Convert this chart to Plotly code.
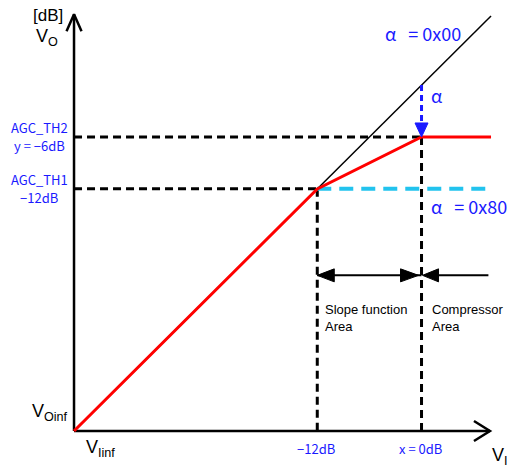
import plotly.graph_objects as go

# ---- data (dB) ----
v_inf_in = -40.0     # V_Iinf
v_inf_out = -40.0    # V_Oinf
th1 = -12.0          # AGC_TH1
th2 = -6.0           # AGC_TH2
x_comp = 0.0         # input level where compressor area starts
x_end = 8.0
red_x = [v_inf_in, th1, x_comp, x_end]
red_y = [v_inf_out, th1, th2, th2]
diag_x = [v_inf_in, x_end]
diag_y = [v_inf_out, x_end]
cyan_x = [th1, 7.65]
cyan_y = [th1, th1]
area_y = -22.0

# pixel scale helpers (px per dB)
PXX = 8.6875
PXY = 8.647
def dx(p): return p / PXX
def dy(p): return p / PXY

BLUE = "#1a1aff"
CYAN = "#22c3ee"
fig = go.Figure()

def line(x, y, color="black", width=2, dash=None):
    fig.add_trace(go.Scatter(x=x, y=y, mode="lines", hoverinfo="skip",
                             line=dict(color=color, width=width, dash=dash)))

def tri(x, y, color="black"):
    fig.add_trace(go.Scatter(x=x + [x[0]], y=y + [y[0]], mode="lines", fill="toself",
                             fillcolor=color, hoverinfo="skip",
                             line=dict(color=color, width=1)))

# axes
y_top = 8.2
x_right = 7.88
line([v_inf_in, v_inf_in], [v_inf_out, y_top], width=2.5)
line([v_inf_in, x_right], [v_inf_out, v_inf_out], width=2.5)
line([v_inf_in - dx(7.5), v_inf_in, v_inf_in + dx(7.5)], [y_top - dy(17), y_top, y_top - dy(17)], width=2.5)
line([x_right - dx(16), x_right, x_right - dx(16)], [v_inf_out + dy(10), v_inf_out, v_inf_out - dy(10)], width=2.5)

# dashed guides
dash_k = "8px,5px"
line([v_inf_in, x_comp], [th2, th2], width=3, dash=dash_k)
line([v_inf_in, th1], [th1, th1], width=3, dash=dash_k)
line([th1, th1], [th1, v_inf_out], width=3, dash=dash_k)
line([x_comp, x_comp], [th2, v_inf_out], width=3, dash=dash_k)
line(cyan_x, cyan_y, color=CYAN, width=4, dash="14px,8px")

# diagonal and response
line(diag_x, diag_y, width=1.5)
line(red_x, red_y, color="#ff0000", width=3)

# blue alpha arrow
line([x_comp, x_comp], [x_comp, th2 + dy(13)], color=BLUE, width=3, dash="6px,4px")
tri([x_comp - dx(6.5), x_comp + dx(6.5), x_comp], [th2 + dy(14), th2 + dy(14), th2], color=BLUE)

# area arrows
line([th1, x_comp], [area_y, area_y], width=2)
tri([th1, th1 + dx(17), th1 + dx(17)], [area_y, area_y + dy(6.5), area_y - dy(6.5)])
tri([x_comp - dx(3), x_comp - dx(21), x_comp - dx(21)], [area_y, area_y + dy(6.5), area_y - dy(6.5)])
line([x_comp + dx(15), 7.7], [area_y, area_y], width=2)
tri([x_comp + dx(1), x_comp + dx(17), x_comp + dx(17)], [area_y, area_y + dy(6.5), area_y - dy(6.5)])

JP = "Noto Sans CJK JP, Liberation Sans, sans-serif"
AR = "Liberation Sans, Arial, sans-serif"
NB = "\u00a0"

def txt(x, y, s, size, color="black", xanchor="center", family=JP, align="center"):
    fig.add_annotation(x=x, y=y, text=s, showarrow=False, xanchor=xanchor, yanchor="middle",
                       align=align, font=dict(size=size, color=color, family=family))

txt(-42.99, 8.1, "[dB]", 17, family=AR)
txt(-43.1, 5.45, "V<sub>O</sub>", 18, family=AR)
txt(-44.0, -4.85, "AGC_TH2", 13, color=BLUE)
txt(-44.0, -6.93, "y = −6dB", 13, color=BLUE)
txt(-44.0, -10.87, "AGC_TH1", 13, color=BLUE)
txt(-44.0, -12.94, "−12dB", 13, color=BLUE)
txt(-42.76, -37.9, "V<sub>Oinf</sub>", 18, family=AR)
txt(-37.0, -42.0, "V<sub>Iinf</sub>", 18, family=AR)
txt(th1 - 0.15, -41.97, "−12dB", 13, color=BLUE)
txt(x_comp - 0.17, -41.97, "x = 0dB", 13, color=BLUE)
txt(7.88, -43.0, "V<sub>I</sub>", 18, xanchor="left", family=AR)
txt(0.17, 6.02, "α" + NB + NB + NB + "= 0x00", 18, color=BLUE)
txt(1.67, -1.16, "α", 18, color=BLUE)
txt(0.86, -14.0, "α" + NB + NB + NB + "= 0x80", 18, color=BLUE, xanchor="left")
txt(th1 + dx(6), -25.9, "Slope function", 13, xanchor="left", family=AR, align="left")
txt(th1 + dx(6), -27.9, "Area", 13, xanchor="left", family=AR, align="left")
txt(x_comp + dx(8), -25.9, "Compressor", 13, xanchor="left", family=AR, align="left")
txt(x_comp + dx(8), -27.9, "Area", 13, xanchor="left", family=AR, align="left")

fig.update_layout(width=509, height=465, autosize=False,
                  margin=dict(l=0, r=0, t=0, b=0),
                  plot_bgcolor="white", paper_bgcolor="white", showlegend=False,
                  xaxis=dict(visible=False, range=[-48.52, 10.07], fixedrange=True),
                  yaxis=dict(visible=False, range=[-43.93, 9.84], fixedrange=True))
fig.write_html("out.html", config={"displayModeBar": False},
               post_script="document.body.style.margin='0';document.body.style.overflow='hidden';")
